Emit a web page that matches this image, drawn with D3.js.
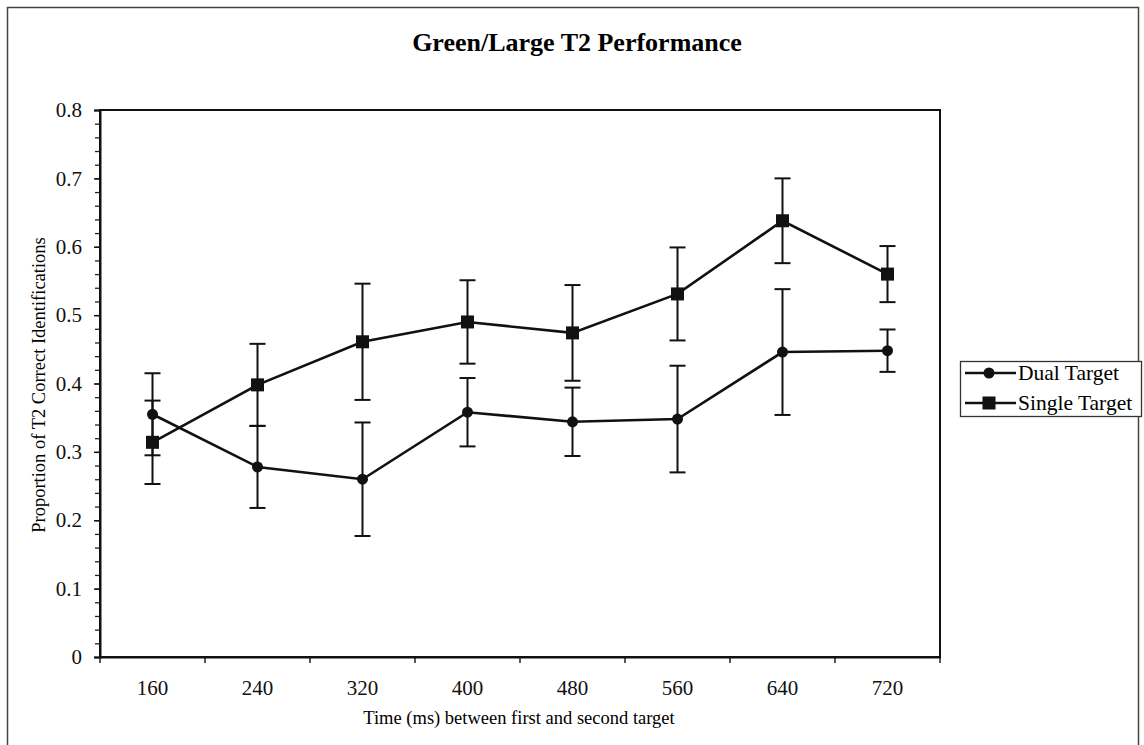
<!DOCTYPE html>
<html>
<head>
<meta charset="utf-8">
<script src="https://cdn.jsdelivr.net/npm/d3@7"></script>
<style>
  body { margin: 0; background: #fff; }
  svg { font-family: "Liberation Serif", "Times New Roman", serif; }
</style>
</head>
<body>
<svg id="chart" width="1144" height="745"></svg>
<script>
// values
const delays = ["160", "240", "320", "400", "480", "560", "640", "720"];
const dualMean = [0.355, 0.278, 0.260, 0.358, 0.344, 0.348, 0.446, 0.448];
const dualErr = [0.060, 0.060, 0.083, 0.050, 0.050, 0.078, 0.092, 0.031];
const singleMean = [0.314, 0.398, 0.461, 0.490, 0.474, 0.531, 0.638, 0.560];
const singleErr = [0.061, 0.060, 0.085, 0.061, 0.070, 0.068, 0.062, 0.041];
const yTicks = [0, 0.1, 0.2, 0.3, 0.4, 0.5, 0.6, 0.7, 0.8];
const seriesNames = ["Dual Target", "Single Target"];

const margins = { top: 110, bottom: 88, left: 100, right: 204 };
const width = 1144, height = 745;
const graphWidth = width - margins.left - margins.right;
const graphHeight = height - margins.top - margins.bottom;

const svg = d3.select("#chart");

// outer frame
svg.append("rect")
  .attr("x", 7.5).attr("y", 7.5)
  .attr("width", 1131).attr("height", 760)
  .attr("fill", "none")
  .attr("stroke", "#444")
  .attr("stroke-width", 1.5);

svg.append("text")
  .attr("x", 577).attr("y", 51)
  .attr("text-anchor", "middle")
  .attr("font-weight", "bold")
  .attr("font-size", 26)
  .text("Green/Large T2 Performance");

const scaleX = d3.scaleBand().domain(delays).range([0, graphWidth]);
const scaleY = d3.scaleLinear().domain([0, 0.8]).range([graphHeight, 0]);

const graph = svg.append("g")
  .attr("transform", `translate(${margins.left},${margins.top})`);

// plot frame
graph.append("rect")
  .attr("width", graphWidth).attr("height", graphHeight)
  .attr("fill", "none").attr("stroke", "#111").attr("stroke-width", 2);

// y axis minor ticks
const yMinor = graph.append("g")
  .call(d3.axisLeft(scaleY).tickValues(d3.range(0, 41).map((i) => i * 0.02)).tickSize(5).tickFormat(""));
yMinor.select(".domain").remove();
yMinor.selectAll("line").attr("stroke", "#222").attr("stroke-width", 1.3);

const yAxis = graph.append("g")
  .call(d3.axisLeft(scaleY).tickValues(yTicks).tickSize(6).tickPadding(12)
    .tickFormat((d) => (d === 0 ? "0" : d3.format(".1f")(d))));
yAxis.select(".domain").attr("stroke", "#111").attr("stroke-width", 2);
yAxis.selectAll("line").attr("stroke", "#111").attr("stroke-width", 1.4);
yAxis.selectAll("text")
  .attr("font-family", "Liberation Serif").attr("font-size", 21).attr("fill", "#111");

// x axis: ticks between categories
const xAxis = graph.append("g")
  .attr("transform", `translate(0,${graphHeight})`)
  .call(d3.axisBottom(scaleX).tickSize(0).tickPadding(23));
xAxis.select(".domain").attr("stroke", "#111").attr("stroke-width", 2);
xAxis.selectAll("text")
  .attr("font-family", "Liberation Serif").attr("font-size", 21).attr("fill", "#111");
graph.append("g")
  .selectAll("line")
  .data(delays)
  .enter()
  .append("line")
  .attr("x1", (d) => scaleX(d) + scaleX.bandwidth())
  .attr("x2", (d) => scaleX(d) + scaleX.bandwidth())
  .attr("y1", graphHeight)
  .attr("y2", graphHeight + 6)
  .attr("stroke", "#111").attr("stroke-width", 1.4);
graph.append("line")
  .attr("x1", 0).attr("x2", 0)
  .attr("y1", graphHeight).attr("y2", graphHeight + 6)
  .attr("stroke", "#111").attr("stroke-width", 1.4);

svg.append("text")
  .attr("x", 519).attr("y", 724)
  .attr("text-anchor", "middle")
  .attr("font-size", 18.5)
  .text("Time (ms) between first and second target");

svg.append("text")
  .attr("transform", "translate(45,385) rotate(-90)")
  .attr("text-anchor", "middle")
  .attr("font-size", 18.5)
  .text("Proportion of T2 Correct Identifications");

const cx = (i) => scaleX(delays[i]) + scaleX.bandwidth() / 2;
const capW = 8;

function drawSeries(means, errs, marker) {
  const g = graph.append("g");
  // error bars
  means.forEach((m, i) => {
    const x = cx(i);
    const hi = scaleY(m + errs[i]);
    const lo = scaleY(m - errs[i]);
    g.append("line").attr("x1", x).attr("x2", x).attr("y1", hi).attr("y2", lo)
      .attr("stroke", "#111").attr("stroke-width", 2);
    [hi, lo].forEach((y) => {
      g.append("line").attr("x1", x - capW).attr("x2", x + capW).attr("y1", y).attr("y2", y)
        .attr("stroke", "#111").attr("stroke-width", 2);
    });
  });
  const line = d3.line().x((d, i) => cx(i)).y((d) => scaleY(d));
  g.append("path")
    .attr("d", line(means))
    .attr("fill", "none").attr("stroke", "#111").attr("stroke-width", 2.6);
  if (marker === "circle") {
    g.selectAll("circle").data(means).enter().append("circle")
      .attr("cx", (d, i) => cx(i)).attr("cy", (d) => scaleY(d))
      .attr("r", 5.5).attr("fill", "#111");
  } else {
    g.selectAll("rect").data(means).enter().append("rect")
      .attr("x", (d, i) => cx(i) - 6.5).attr("y", (d) => scaleY(d) - 6.5)
      .attr("width", 13).attr("height", 13).attr("fill", "#111");
  }
}

drawSeries(dualMean, dualErr, "circle");
drawSeries(singleMean, singleErr, "square");

// legend
const legend = svg.append("g").attr("transform", "translate(960,361)");
legend.append("rect")
  .attr("x", 0.5).attr("y", 0.5).attr("width", 181).attr("height", 55)
  .attr("fill", "#fff").attr("stroke", "#333").attr("stroke-width", 1.3);
seriesNames.forEach((name, i) => {
  const y = 12 + i * 30;
  legend.append("line").attr("x1", 5).attr("x2", 56).attr("y1", y).attr("y2", y)
    .attr("stroke", "#111").attr("stroke-width", 2.4);
  if (i === 0) {
    legend.append("circle").attr("cx", 29).attr("cy", y).attr("r", 5.5).attr("fill", "#111");
  } else {
    legend.append("rect").attr("x", 22.5).attr("y", y - 6.5).attr("width", 13).attr("height", 13).attr("fill", "#111");
  }
  legend.append("text")
    .attr("x", 58).attr("y", y + 7)
    .attr("font-size", 21.5)
    .text(name);
});
</script>
</body>
</html>
